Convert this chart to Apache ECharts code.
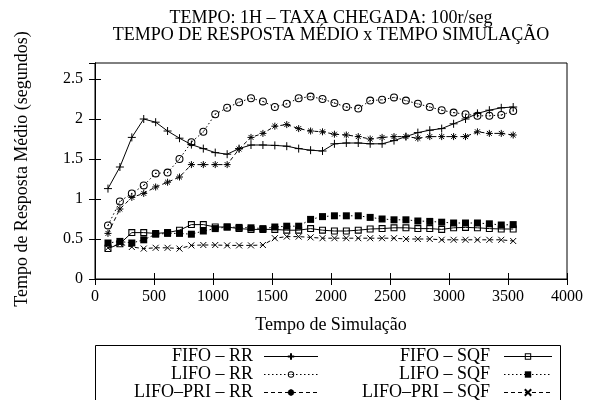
<!DOCTYPE html>
<html><head><meta charset="utf-8">
<script src="https://cdn.jsdelivr.net/npm/echarts@6/dist/echarts.min.js"></script>
<style>html,body{margin:0;padding:0;background:#fff}#c{width:589px;height:400px}</style>
</head><body><div id="c"></div>
<script>
const tempos = [110,211,312,413,514,615,716,817,918,1019,1120,1221,1322,1423,1524,1625,1726,1827,1928,2029,2130,2231,2332,2433,2534,2635,2736,2837,2938,3039,3140,3241,3342,3443,3544];
const fifoRR = [1.13,1.40,1.77,2.00,1.96,1.85,1.76,1.68,1.63,1.58,1.56,1.63,1.675,1.675,1.67,1.66,1.63,1.61,1.60,1.69,1.70,1.70,1.69,1.69,1.73,1.78,1.83,1.86,1.88,1.94,2.00,2.07,2.11,2.14,2.15];
const lifoRR = [0.67,0.97,1.07,1.17,1.32,1.33,1.50,1.71,1.84,2.06,2.14,2.21,2.26,2.22,2.15,2.19,2.26,2.28,2.25,2.20,2.15,2.13,2.23,2.24,2.27,2.23,2.19,2.15,2.11,2.08,2.06,2.04,2.04,2.05,2.10];
const lifoPriRR = [0.57,0.875,1.02,1.07,1.15,1.21,1.275,1.43,1.43,1.43,1.43,1.625,1.77,1.82,1.91,1.93,1.88,1.85,1.84,1.81,1.80,1.78,1.75,1.77,1.78,1.78,1.76,1.78,1.78,1.78,1.78,1.84,1.82,1.82,1.80];
const fifoSQF = [0.38,0.44,0.58,0.58,0.57,0.58,0.61,0.68,0.68,0.65,0.65,0.63,0.62,0.62,0.62,0.61,0.61,0.63,0.61,0.60,0.60,0.61,0.625,0.63,0.64,0.64,0.63,0.63,0.62,0.64,0.645,0.64,0.63,0.625,0.625];
const lifoSQF = [0.45,0.47,0.45,0.49,0.56,0.57,0.57,0.56,0.60,0.63,0.65,0.645,0.64,0.63,0.65,0.66,0.66,0.745,0.78,0.79,0.79,0.79,0.77,0.75,0.74,0.74,0.725,0.72,0.71,0.70,0.70,0.70,0.69,0.675,0.68];
const lifoPriSQF = [0.39,0.44,0.40,0.38,0.39,0.39,0.38,0.42,0.425,0.425,0.42,0.42,0.42,0.425,0.51,0.53,0.53,0.52,0.51,0.51,0.51,0.51,0.51,0.51,0.51,0.50,0.50,0.50,0.49,0.49,0.49,0.49,0.49,0.49,0.475];
const nomes = ['FIFO – RR','LIFO – RR','LIFO–PRI – RR','FIFO – SQF','LIFO – SQF','LIFO–PRI – SQF'];
const xTicks = {min:0, max:4000, interval:500};
const yTicks = {min:0, max:2.7, interval:0.5};
const titulo1 = 'TEMPO: 1H – TAXA CHEGADA: 100r/seg';
const titulo2 = 'TEMPO DE RESPOSTA MÉDIO x TEMPO SIMULAÇÃO';
const nomeX = 'Tempo de Simulação';
const nomeY = 'Tempo de Resposta Médio (segundos)';

const FONT = "'Liberation Serif','Times New Roman',serif";
const PLUS = 'path://M5,0L5,10M0,5L10,5';
const AST = 'path://M5,0L5,10M0,5L10,5M1.5,1.5L8.5,8.5M8.5,1.5L1.5,8.5';
const XS = 'path://M0,0L10,10M10,0L0,10';
const RING = 'path://M0,5A5,5,0,1,0,10,5A5,5,0,1,0,0,5Z M1.3,5A3.7,3.7,0,1,1,8.7,5A3.7,3.7,0,1,1,1.3,5Z M4.2,5A0.8,0.8,0,1,0,5.8,5A0.8,0.8,0,1,0,4.2,5Z';
const BOX = 'path://M0,0L10,0L10,10L0,10Z M1.6,1.6L1.6,8.4L8.4,8.4L8.4,1.6Z';

function mk(name, vals, symbol, size, ltype, bw){
  return {
    name, type:'line', data: tempos.map((t,i)=>[t, vals[i]]),
    symbol, symbolSize:size, showSymbol:true,
    itemStyle:{color:'#000', borderColor:'#000', borderWidth:bw},
    lineStyle:{color:'#000', width:1, type:ltype},
    emphasis:{disabled:true}, animation:false
  };
}
const series = [
  mk(nomes[0], fifoRR, PLUS, 8, 'solid', 1),
  mk(nomes[1], lifoRR, RING, 8, [1.5,2.5], 0),
  mk(nomes[2], lifoPriRR, AST, 7, [4,3], 1),
  mk(nomes[3], fifoSQF, BOX, 7, 'solid', 0),
  mk(nomes[4], lifoSQF, 'rect', 7, [1.5,2.5], 0),
  mk(nomes[5], lifoPriSQF, XS, 6, [4,3], 1)
];

const chart = echarts.init(document.getElementById('c'), null, {renderer:'canvas'});
const axisCommon = {
  axisLine:{show:true, lineStyle:{color:'#000', width:1}},
  axisTick:{show:true, inside:true, length:6, lineStyle:{color:'#000'}},
  splitLine:{show:false}
};
function legendCfg(left, itemWidth, padRight, data){
  return {
    orient:'vertical', align:'right', padding:0, itemGap:0,
    itemWidth, itemHeight:8, top:347.5, left, height:90,
    lineStyle:{width:1},
    textStyle:{fontFamily:FONT, fontSize:18, color:'#000', width:160, height:17, align:'right', padding:[0,padRight,0,0], lineHeight:17},
    selectedMode:false, data
  };
}
chart.setOption({
  animation:false,
  textStyle:{fontFamily:FONT},
  grid:{left:95, right:22, top:63, bottom:121, show:true, borderColor:'#000', borderWidth:1},
  xAxis:[
    Object.assign({type:'value', position:'bottom'}, xTicks, axisCommon,
      {axisLabel:{color:'#000', fontFamily:FONT, fontSize:16, margin:10, formatter:v=>String(v)}}),
    Object.assign({type:'value', position:'top'}, xTicks, axisCommon,
      {axisLabel:{show:false}})
  ],
  yAxis:[
    Object.assign({type:'value', position:'left'}, yTicks, axisCommon,
      {axisLabel:{color:'#000', fontFamily:FONT, fontSize:16, margin:12, showMaxLabel:false}}),
    Object.assign({type:'value', position:'right'}, yTicks, axisCommon,
      {axisLabel:{show:false}})
  ],
  legend:[
    legendCfg(93, 54, 6, nomes.slice(0,3)),
    legendCfg(330, 48, 9, nomes.slice(3,6))
  ],
  graphic:[
    {type:'text', x:331, y:18.5, style:{text:titulo1, font:'18px '+FONT, fill:'#000', align:'center', verticalAlign:'middle'}},
    {type:'text', x:331, y:35, style:{text:titulo2, font:'18px '+FONT, fill:'#000', align:'center', verticalAlign:'middle'}},
    {type:'text', x:22, y:169, rotation:Math.PI/2, style:{text:nomeY, font:'18px '+FONT, fill:'#000', align:'center', verticalAlign:'middle'}},
    {type:'text', x:331, y:325.5, style:{text:nomeX, font:'18px '+FONT, fill:'#000', align:'center', verticalAlign:'middle'}},
    {type:'rect', shape:{x:95.5, y:345.5, width:465, height:70}, style:{fill:'none', stroke:'#000', lineWidth:1}}
  ],
  series
});
</script></body></html>
